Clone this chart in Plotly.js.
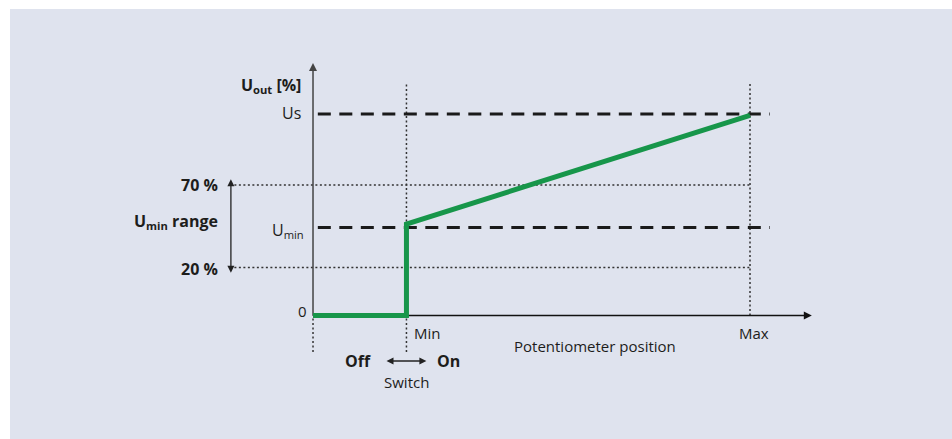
<!DOCTYPE html>
<html>
<head>
<meta charset="utf-8">
<script src="https://cdn.plot.ly/plotly-3.0.1.min.js"></script>
<style>html,body{margin:0;padding:0;background:#fff;}#chart{width:952px;height:439px;}</style>
</head>
<body>
<div id="chart"></div>
<script>
// Positions along the potentiometer axis (schematic units: Min = 0, Max = 100)
const posNames = ['Origin', 'Min', 'Max'];
const posX = [-27.2, 0, 100];
// Output levels (schematic units, Us = 100)
const levelNames = ['0', '20 %', 'U<sub>min</sub>', '70 %', 'Us'];
const levelY = [0, 23.8, 43.7, 64.8, 100];
// Output curve U_out vs potentiometer position
const curveX = [-27.2, 0, 0, 100];
const curveY = [0, 0, 45.4, 99.3];
// Axis extents
const xAxisTip = 118;
const yAxisTip = 125.3;
const guideTop = 115.9;
const guideBottom = -18.1;
const dashStart = -25.8, dashEnd = 105.8;
const dotStart = -51.4;
const rangeArrowX = -51.1;
const switchY = -22.6, switchHalf = 5.8;

const X0 = posX[0], XMIN = posX[1], XMAX = posX[2];
const Y0 = levelY[0], Y20 = levelY[1], YUMIN = levelY[2], Y70 = levelY[3], YUS = levelY[4];

const ink = '#1d1d1b';
const green = '#17964a';
const dotStyle = {color: '#333', width: 1.5, dash: '2px,2.5px'};
const dashStyle = {color: '#1a1a1a', width: 3, dash: '13px,8.5px'};

function line(x, y, style) {
  return {type: 'scatter', mode: 'lines', x: x, y: y, line: style, hoverinfo: 'skip', showlegend: false};
}
function head(x, y, symbol, color, size) {
  return {type: 'scatter', mode: 'markers', x: [x], y: [y], hoverinfo: 'skip', showlegend: false,
    marker: {symbol: symbol, size: size || 7, color: color || '#222', line: {width: 0}}};
}

const traces = [
  // dotted guides
  line([dotStart, XMAX], [Y70, Y70], dotStyle),
  line([dotStart, XMAX], [Y20, Y20], dotStyle),
  line([XMIN, XMIN], [guideBottom, guideTop], dotStyle),
  line([XMAX, XMAX], [Y0, guideTop], dotStyle),
  line([X0, X0], [guideBottom, Y0], dotStyle),
  // axes lines
  line([X0, X0], [Y0, yAxisTip - 3], {color: '#444', width: 1.5}),
  line([X0, xAxisTip - 2], [Y0, Y0], {color: '#111', width: 1.5}),
  // Umin range double arrow and switch double arrow shafts
  line([rangeArrowX, rangeArrowX], [Y20 - 1.5, Y70 + 1.5], {color: '#222', width: 1.3}),
  line([XMIN - switchHalf + 1, XMIN + switchHalf - 1], [switchY, switchY], {color: '#222', width: 1.3}),
  // arrowheads
  head(X0, yAxisTip, 'arrow-up', '#444', 8),
  head(xAxisTip, Y0, 'arrow-right', '#111', 8),
  head(rangeArrowX, Y70 + 2.8, 'arrow-up', '#222', 7),
  head(rangeArrowX, Y20 - 2.6, 'arrow-down', '#222', 7),
  head(XMIN - switchHalf, switchY, 'arrow-left', '#222', 7),
  head(XMIN + switchHalf, switchY, 'arrow-right', '#222', 7),
  // dashed levels
  line([dashStart, dashEnd], [YUS, YUS], dashStyle),
  line([dashStart, dashEnd], [YUMIN, YUMIN], dashStyle),
  // curve
  {type: 'scatter', mode: 'lines', x: curveX, y: curveY,
   line: {color: green, width: 5, shape: 'linear'}, hoverinfo: 'skip', showlegend: false}
];

const fam = 'Open Sans, sans-serif';
const font = {family: fam, size: 15, color: ink};
const bfont = {family: fam, size: 16, color: ink};

function txt(text, x, y, opts) {
  return Object.assign({text: text, x: x, y: y, xref: 'x', yref: 'y', showarrow: false,
    font: font, xanchor: 'center', yanchor: 'middle'}, opts || {});
}

const annotations = [
  // y labels
  txt('<b>U<sub>out</sub> [%]</b>', X0, YUS, {xanchor: 'right', xshift: -10, yshift: 28, font: bfont}),
  txt(levelNames[4], X0, YUS, {xanchor: 'right', xshift: -10, yshift: 1, font: {family: fam, size: 16, color: ink}}),
  txt(levelNames[2], X0, YUMIN, {xanchor: 'right', xshift: -7, yshift: -3, font: {family: fam, size: 16, color: ink}}),
  txt(levelNames[0], X0, Y0, {xanchor: 'right', xshift: -4, yshift: 4}),
  txt('<b>' + levelNames[3] + '</b>', dotStart, Y70, {xanchor: 'right', xshift: -10, font: bfont}),
  txt('<b>' + levelNames[1] + '</b>', dotStart, Y20, {xanchor: 'right', xshift: -10, yshift: -1, font: bfont}),
  txt('<b>U<sub>min</sub> range</b>', dotStart, (Y20 + Y70) / 2, {xanchor: 'right', xshift: -10, yshift: 5, font: bfont}),
  // x labels
  txt(posNames[1], XMIN, Y0, {xanchor: 'left', xshift: 6, yanchor: 'top', yshift: -6}),
  txt(posNames[2], XMAX, Y0, {xanchor: 'center', xshift: 4, yanchor: 'top', yshift: -6}),
  txt('Potentiometer position', (XMIN + XMAX) / 2, Y0, {xshift: 17, yanchor: 'top', yshift: -19}),
  txt('<b>Off</b>', XMIN - switchHalf, switchY, {xanchor: 'right', xshift: -13, yshift: 0, font: bfont}),
  txt('<b>On</b>', XMIN + switchHalf, switchY, {xanchor: 'left', xshift: 9, yshift: 0, font: bfont}),
  txt('Switch', XMIN, switchY, {yshift: -21})
];

const layout = {
  width: 952, height: 439,
  margin: {l: 10, r: 0, t: 9, b: 0, pad: 0},
  paper_bgcolor: '#ffffff',
  plot_bgcolor: '#dfe3ee',
  xaxis: {range: [-115.4, 158.8], visible: false, fixedrange: true},
  yaxis: {range: [-61.3, 152.1], visible: false, fixedrange: true},
  showlegend: false,
  annotations: annotations
};

Plotly.newPlot('chart', traces, layout, {displayModeBar: false, staticPlot: true});
</script>
</body>
</html>
